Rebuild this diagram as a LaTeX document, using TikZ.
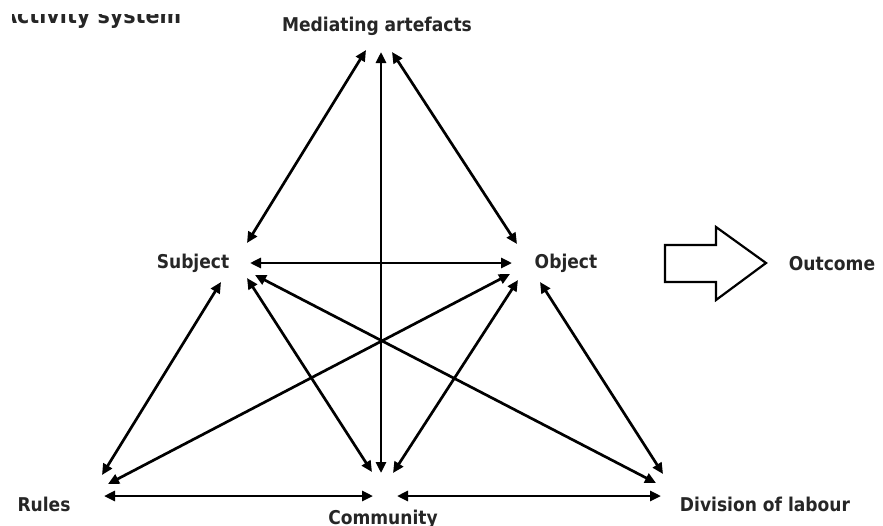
\documentclass[tikz,border=0pt]{standalone}
\usepackage{fontspec}
\setmainfont{DejaVu Sans Condensed}
\usetikzlibrary{arrows.meta}
\tikzset{
  lbl/.style={font=\bfseries\fontsize{19}{22}\selectfont, inner sep=0pt, text=black!85},
  ttl/.style={font=\bfseries\fontsize{23}{27}\selectfont, inner sep=0pt, text=black!85},
  link/.style={line width=2.7pt, {Triangle[length=11pt,width=10pt]}-{Triangle[length=11pt,width=10pt]}},
  bigarrow/.style={line width=2.2pt, draw=black, fill=white, line join=miter}
}
\begin{document}
\begin{tikzpicture}[x=1pt,y=-1pt]
\useasboundingbox (0,0) rectangle (883,525);
% clipped title
\begin{scope}
\clip (12,14) rectangle (300,40);
\node[ttl, anchor=base west] (title) at (1,23) {Activity system};
\end{scope}
% labels
\node[lbl, anchor=base] (med) at (377,31) {Mediating artefacts};
\node[lbl, anchor=base] (subj) at (193,268) {Subject};
\node[lbl, anchor=base] (obj) at (566,268) {Object};
\node[lbl, anchor=base] (out) at (832,270) {Outcome};
\node[lbl, anchor=base] (rules) at (44,511) {Rules};
\node[lbl, anchor=base] (comm) at (383,524) {Community};
\node[lbl, anchor=base] (div) at (765,511) {Division of labour};
% arrow end points
\coordinate (mS) at (366,50);  \coordinate (sM) at (247,243);
\coordinate (mC) at (381,52);  \coordinate (cM) at (381,473);
\coordinate (mO) at (392,52);  \coordinate (oM) at (517,244);
\coordinate (sO) at (250,263); \coordinate (oS) at (512,263);
\coordinate (rS) at (102,475); \coordinate (sR) at (221,282);
\coordinate (rO) at (108,484); \coordinate (oR) at (510,274);
\coordinate (sC) at (247,278); \coordinate (cS) at (372,472);
\coordinate (sD) at (255,275); \coordinate (dS) at (656,483);
\coordinate (cO) at (393,473); \coordinate (oC) at (518,280);
\coordinate (oD) at (540,282); \coordinate (dO) at (663,474);
\coordinate (rC) at (104,496); \coordinate (cR) at (373,496);
\coordinate (cD) at (397,496); \coordinate (dC) at (661,496);
% connectors
\draw[link] (mS) -- (sM);
\draw[link] (mC) -- (cM);
\draw[link] (mO) -- (oM);
\draw[link] (sO) -- (oS);
\draw[link] (rS) -- (sR);
\draw[link] (rO) -- (oR);
\draw[link] (sC) -- (cS);
\draw[link] (sD) -- (dS);
\draw[link] (cO) -- (oC);
\draw[link] (oD) -- (dO);
\draw[link] (rC) -- (cR);
\draw[link] (cD) -- (dC);
% outcome block arrow
\draw[bigarrow] (665,245) -- (716,245) -- (716,227) -- (766,263) -- (716,300) -- (716,282) -- (665,282) -- cycle;
\end{tikzpicture}
\end{document}
